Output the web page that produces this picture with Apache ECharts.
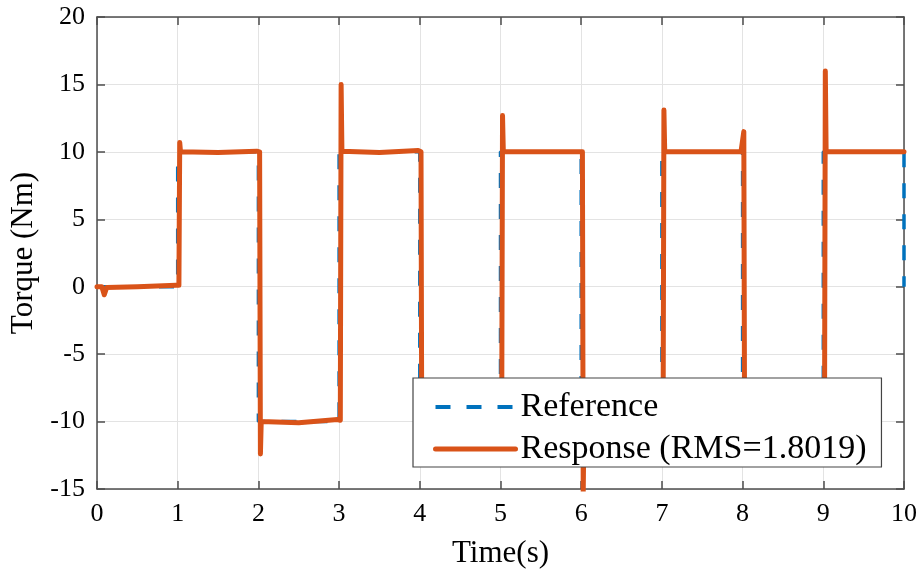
<!DOCTYPE html>
<html>
<head>
<meta charset="utf-8">
<script src="https://cdn.jsdelivr.net/npm/echarts@6/dist/echarts.min.js"></script>
<style>
  html, body { margin: 0; padding: 0; background: #fff; }
  #chart { width: 922px; height: 575px; }
</style>
</head>
<body>
<div id="chart"></div>
<script>
// reference torque (step signal)
const refT = [0, 1, 1, 2, 2, 3, 3, 4, 4, 5, 5, 6, 6, 7, 7, 8, 8, 9, 9, 10, 10];
const refV = [0, 0, 10, 10, -10, -10, 10, 10, -10, -10, 10, 10, -10, -10, 10, 10, -10, -10, 10, 10, 0];

const respT = [0, 0.06, 0.09, 0.12, 0.5, 0.98, 1.015, 1.025, 1.035, 1.5, 1.98, 2.015, 2.025, 2.035, 2.5, 2.98,
  3.015, 3.025, 3.035, 3.5, 3.98, 4.015, 4.025, 4.035, 4.98, 5.015, 5.025, 5.035, 5.98, 6.015, 6.025, 6.035, 6.98,
  7.015, 7.025, 7.035, 7.98, 8.015, 8.025, 8.035, 8.98, 9.015, 9.025, 9.035, 10.0];
const respV = [0, 0, -0.6, -0.05, 0.0, 0.1, 0.1, 10.7, 10.0, 9.95, 10.05, 10.0, -12.4, -10.0, -10.08, -9.85,
  -9.9, 15.0, 10.05, 9.95, 10.1, 10.0, -12.8, -10.0, -10.0, -10.0, 12.7, 10.0, 10.0, 10.0, -15.3, -10.0, -10.0,
  -10.0, 13.1, 10.0, 10.0, 11.5, -11.5, -10.0, -10.0, -10.0, 16.0, 10.0, 10.0];

const xTicks = { min: 0, max: 10, interval: 1 };
const yTicks = { min: -15, max: 20, interval: 5 };

const font = '"Liberation Serif", "Times New Roman", serif';
const axisColor = '#4d4d4d';

const zip = (a, b) => a.map((v, i) => [v, b[i]]);

const chart = echarts.init(document.getElementById('chart'));

const frameAxis = {
  axisLine: { show: true, onZero: false, lineStyle: { color: axisColor, width: 1.5 } },
  axisTick: { show: true, inside: true, length: 8, lineStyle: { color: axisColor, width: 1.5 } },
  axisLabel: { show: false },
  splitLine: { show: false }
};

chart.setOption({
  animation: false,
  backgroundColor: '#fff',
  grid: { left: 97, right: 18, top: 17, bottom: 86 },
  xAxis: [
    {
      type: 'value', ...xTicks, position: 'bottom',
      name: 'Time(s)', nameLocation: 'middle', nameGap: 49,
      nameTextStyle: { fontFamily: font, fontSize: 31, color: '#000' },
      axisLine: { show: true, onZero: false, lineStyle: { color: axisColor, width: 1.5 } },
      axisTick: { show: true, inside: true, length: 8, lineStyle: { color: axisColor, width: 1.5 } },
      axisLabel: { fontFamily: font, fontSize: 26, color: '#000', margin: 12 },
      splitLine: { show: true, lineStyle: { color: '#e3e3e3', width: 1 } }
    },
    { type: 'value', ...xTicks, position: 'top', ...frameAxis }
  ],
  yAxis: [
    {
      type: 'value', ...yTicks, position: 'left',
      name: 'Torque (Nm)', nameLocation: 'middle', nameGap: 54,
      nameTextStyle: { fontFamily: font, fontSize: 31, color: '#000' },
      axisLine: { show: true, onZero: false, lineStyle: { color: axisColor, width: 1.5 } },
      axisTick: { show: true, inside: true, length: 8, lineStyle: { color: axisColor, width: 1.5 } },
      axisLabel: { fontFamily: font, fontSize: 26, color: '#000', margin: 12 },
      splitLine: { show: true, lineStyle: { color: '#e3e3e3', width: 1 } }
    },
    { type: 'value', ...yTicks, position: 'right', ...frameAxis }
  ],
  legend: {
    orient: 'vertical',
    left: 413,
    top: 378,
    itemWidth: 80,
    itemHeight: 20,
    itemGap: 6,
    padding: [11, 15, 0, 20],
    backgroundColor: '#fff',
    borderColor: '#444',
    borderWidth: 1.2,
    textStyle: { fontFamily: font, fontSize: 34, color: '#000', lineHeight: 36 },
    data: [
      { name: 'Reference', lineStyle: { width: 4 }, itemStyle: { opacity: 0 } },
      { name: 'Response (RMS=1.8019)', lineStyle: { width: 5 }, itemStyle: { opacity: 0 } }
    ]
  },
  series: [
    {
      name: 'Reference',
      type: 'line',
      symbol: 'none',
      data: zip(refT, refV),
      lineStyle: { color: '#0072BD', width: 3.5, type: [15, 16] },
      itemStyle: { color: '#0072BD' },
      z: 2
    },
    {
      name: 'Response (RMS=1.8019)',
      type: 'line',
      symbol: 'none',
      data: zip(respT, respV),
      lineStyle: { color: '#D95319', width: 5, cap: 'round', join: 'round' },
      itemStyle: { color: '#D95319' },
      z: 3
    }
  ]
});
</script>
</body>
</html>
